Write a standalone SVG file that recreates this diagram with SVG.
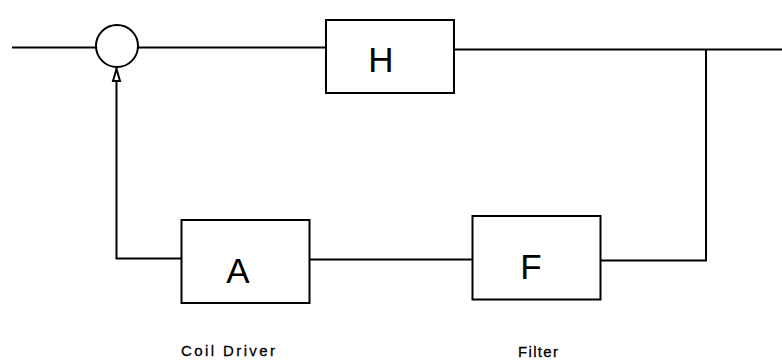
<svg xmlns="http://www.w3.org/2000/svg" width="782" height="363" viewBox="0 0 782 363">
<style>
.ln{fill:none;stroke:#000;stroke-width:2}
.box{fill:#fff;stroke:#000;stroke-width:2}
.big{font-family:"Liberation Sans",Arial,sans-serif;font-size:35px;fill:#000;text-anchor:middle}
.lbl{font-family:"Liberation Sans",Arial,sans-serif;font-size:15px;fill:#000;stroke:#000;stroke-width:0.3}
</style>
<rect width="782" height="363" fill="#fff"/>
<g id="connectors">
<line class="ln" x1="12" y1="47.5" x2="96" y2="47.5"/>
<line class="ln" x1="138" y1="47.5" x2="326" y2="47.5"/>
<polyline class="ln" points="454,49.5 782,49.5"/>
<polyline class="ln" points="706,49.5 706,260.5 600,260.5"/>
<line class="ln" x1="472" y1="259.5" x2="309" y2="259.5"/>
<polyline class="ln" points="181,258.5 116.5,258.5 116.5,81"/>
<line class="ln" x1="116.5" y1="67" x2="116.5" y2="69"/>
<path d="M116.5,69 L120,81 L113,81 Z" fill="#fff" stroke="#000" stroke-width="2"/>
</g>
<g id="sum">
<circle class="ln" cx="117" cy="46" r="21"/>
</g>
<g id="H">
<rect class="box" x="326" y="20" width="128" height="73"/>
<text class="big" x="381" y="72">H</text>
</g>
<g id="A">
<rect class="box" x="181.5" y="220" width="128" height="83"/>
<text class="big" x="238" y="283">A</text>
</g>
<g id="F">
<rect class="box" x="472.5" y="216" width="128" height="83.5"/>
<text class="big" x="531" y="279">F</text>
</g>
<g id="labels">
<text class="lbl" x="181" y="356" textLength="94" lengthAdjust="spacing">Coil Driver</text>
<text class="lbl" x="518" y="357" textLength="40" lengthAdjust="spacing">Filter</text>
</g>
</svg>
